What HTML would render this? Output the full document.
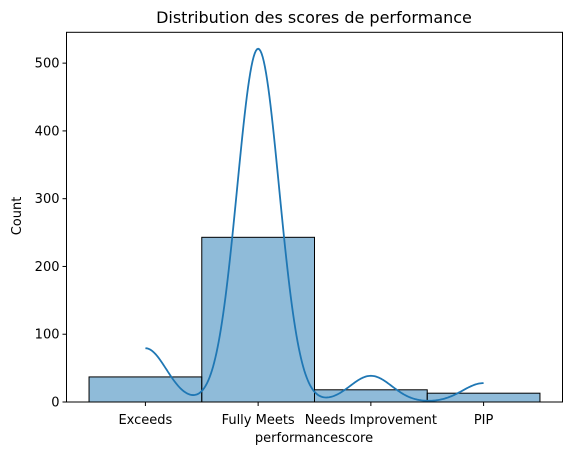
<!DOCTYPE html>
<html><head><meta charset="utf-8"><style>
body{margin:0;background:#fff;}
svg{display:block;font-family:"DejaVu Sans","Liberation Sans",sans-serif;}
</style></head><body>
<svg id="chart" width="571" height="455" viewBox="0 0 571 455">
<rect width="571" height="455" fill="#fff"/>
<text x="314" y="23" font-size="16" text-anchor="middle">Distribution des scores de performance</text>
<g id="bars"></g>
<path id="kde" fill="none" stroke="#1f77b4" stroke-width="1.8"/>
<rect x="66.5" y="32.3" width="496" height="369.7" fill="none" stroke="#000" stroke-width="1"/>
<g id="yticks" font-size="13"></g>
<g id="xticks" font-size="13"></g>
<text x="314" y="442" font-size="13" text-anchor="middle">performancescore</text>
<text transform="translate(21,216) rotate(-90)" font-size="13" text-anchor="middle">Count</text>
</svg>
<script>
const categories = ["Exceeds","Fully Meets","Needs Improvement","PIP"];
const counts = [37, 243, 18, 13];
const yTicks = [0,100,200,300,400,500];
const bandwidth = 0.186;

const X0=66.5, X1=562.5, Y0=402, Y1=32.3, xmin=-0.7, xmax=3.7, ymin=0, ymax=545.5;
const sx = v => X0 + (v - xmin)/(xmax - xmin)*(X1 - X0);
const sy = v => Y0 - (v - ymin)/(ymax - ymin)*(Y0 - Y1);
const NS="http://www.w3.org/2000/svg";
const bars=document.getElementById('bars');
counts.forEach((c,i)=>{
  const r=document.createElementNS(NS,'rect');
  r.setAttribute('x',sx(i-0.5)); r.setAttribute('width',sx(i+0.5)-sx(i-0.5));
  r.setAttribute('y',sy(c)); r.setAttribute('height',sy(0)-sy(c));
  r.setAttribute('fill','rgba(31,119,180,0.5)'); r.setAttribute('stroke','#000'); r.setAttribute('stroke-width','1');
  
  
  bars.appendChild(r);
});
let d="";
for(let k=0;k<=300;k++){
  const x=3*k/300; let dens=0;
  counts.forEach((c,i)=>{const z=(x-i)/bandwidth; dens+=c*Math.exp(-z*z/2)/(Math.sqrt(2*Math.PI)*bandwidth);});
  d+=(k?"L":"M")+sx(x).toFixed(2)+","+sy(dens).toFixed(2);
}
document.getElementById('kde').setAttribute('d',d);
const yt=document.getElementById('yticks');
yTicks.forEach(t=>{
  const l=document.createElementNS(NS,'line');
  l.setAttribute('x1',X0-4);l.setAttribute('x2',X0);l.setAttribute('y1',sy(t));l.setAttribute('y2',sy(t));l.setAttribute('stroke','#000');
  
  
  yt.appendChild(l);
  const tx=document.createElementNS(NS,'text');
  tx.setAttribute('x',X0-7);tx.setAttribute('y',sy(t)+4.5);tx.setAttribute('text-anchor','end');tx.textContent=t;
  
  
  yt.appendChild(tx);
});
const xt=document.getElementById('xticks');
categories.forEach((c,i)=>{
  const l=document.createElementNS(NS,'line');
  l.setAttribute('x1',sx(i));l.setAttribute('x2',sx(i));l.setAttribute('y1',Y0);l.setAttribute('y2',Y0+4);l.setAttribute('stroke','#000');
  
  
  xt.appendChild(l);
  const tx=document.createElementNS(NS,'text');
  tx.setAttribute('x',sx(i));tx.setAttribute('y',Y0+22);tx.setAttribute('text-anchor','middle');tx.textContent=c;
  
  
  xt.appendChild(tx);
});
</script>
</body></html>
